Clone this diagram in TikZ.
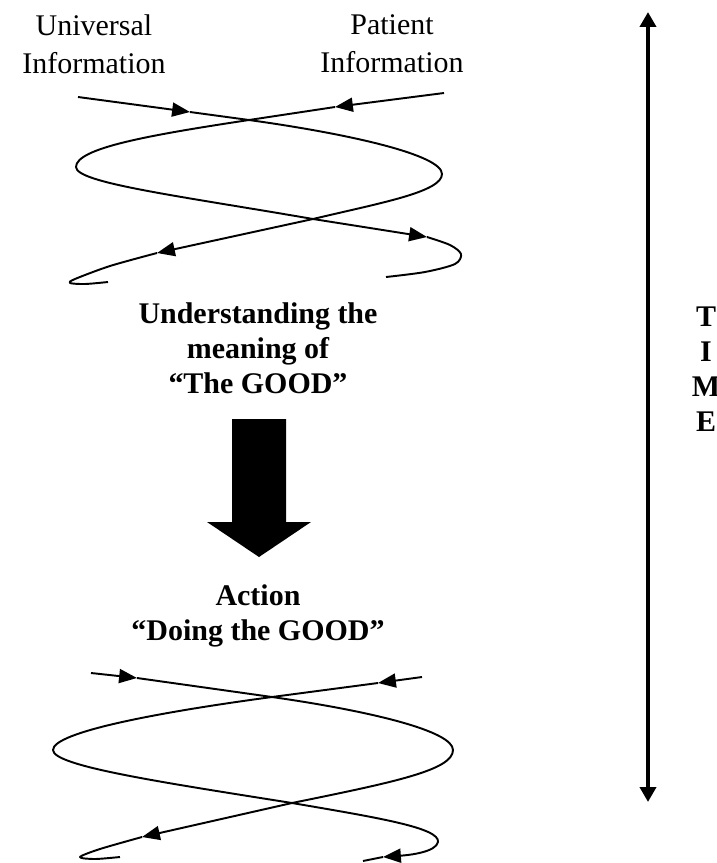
\documentclass[tikz,border=0pt]{standalone}
\usepackage{fontspec}
\setmainfont{Liberation Serif}
\usetikzlibrary{arrows.meta}
\tikzset{spiral/.style={line width=0.8pt,line join=round},
  headed/.style={-{Triangle[length=7.4pt,width=5.8pt]}},
  infotext/.style={align=center,inner sep=0pt,font=\fontsize{12.4}{15.6}\selectfont},
  boldtext/.style={align=center,inner sep=0pt,font=\fontsize{12.4}{14.5}\selectfont\bfseries},
  timeline/.style={line width=1.65pt,{Triangle[length=6.2pt,width=6.6pt]}-{Triangle[length=6.2pt,width=6.6pt]}}}

\begin{document}
\begin{tikzpicture}[x=0.4138pt,y=-0.4138pt]
  \useasboundingbox (0,0) rectangle (717,863);
  % sources
  \node[infotext] (univ) at (94,44) {Universal\\Information};
  \node[infotext] (patient) at (392,44) {Patient\\Information};
  % upper spiral
  \draw[spiral,headed] (78,97) -- (190,112);
  \draw[spiral,headed] (190,112) -- (249,120) .. controls (350,134) and (442,155) .. (442,174)
    .. controls (442,192) and (380,203) .. (313,219) -- (157,253);
  \draw[spiral] plot[smooth] coordinates {(157,253) (110,266) (75,279) (70,283) (85,284) (108,282)};
  \draw[spiral,headed] (444,93) -- (335,107);
  \draw[spiral,headed] (335,107) -- (249,120) .. controls (150,135) and (76,148) .. (76,167)
    .. controls (76,183) and (180,196) .. (313,219) -- (427,237);
  \draw[spiral] plot[smooth] coordinates {(427,237) (450,245) (461,254) (455,264) (425,272) (386,277)};
  % understanding
  \node[boldtext] (good) at (258,348) {Understanding the\\meaning of\\“The GOOD”};
  \fill (232,419) -- (286,419) -- (286,522) -- (311,522) -- (259,557) -- (207,522) -- (232,522) -- cycle;
  \node[boldtext] (action) at (258,615.5) {Action\\“Doing the GOOD”};
  % lower spiral
  \draw[spiral,headed] (91,673) -- (137,678);
  \draw[spiral,headed] (137,678) -- (272,697) .. controls (370,711) and (453,731) .. (453,750)
    .. controls (453,770) and (395,782) .. (292,803) -- (142,837);
  \draw[spiral] plot[smooth] coordinates {(142,837) (100,849) (80,857) (95,859) (120,857)};
  \draw[spiral,headed] (422,677) -- (378,683);
  \draw[spiral,headed] (378,683) -- (272,697) .. controls (160,712) and (53,732) .. (53,750)
    .. controls (53,766) and (160,782) .. (292,803) .. controls (380,818) and (440,828) .. (438,842)
    .. controls (436,852) and (410,855) .. (383,857);
  \draw[spiral] (383,857) -- (363,861);
  % time
  \coordinate (timetop) at (648,12);
  \coordinate (timebot) at (648,802);
  \draw[timeline] (timebot) -- (timetop);
  \node[boldtext] (time) at (706,369.5) {T\\I\\M\\E};
\end{tikzpicture}
\end{document}
